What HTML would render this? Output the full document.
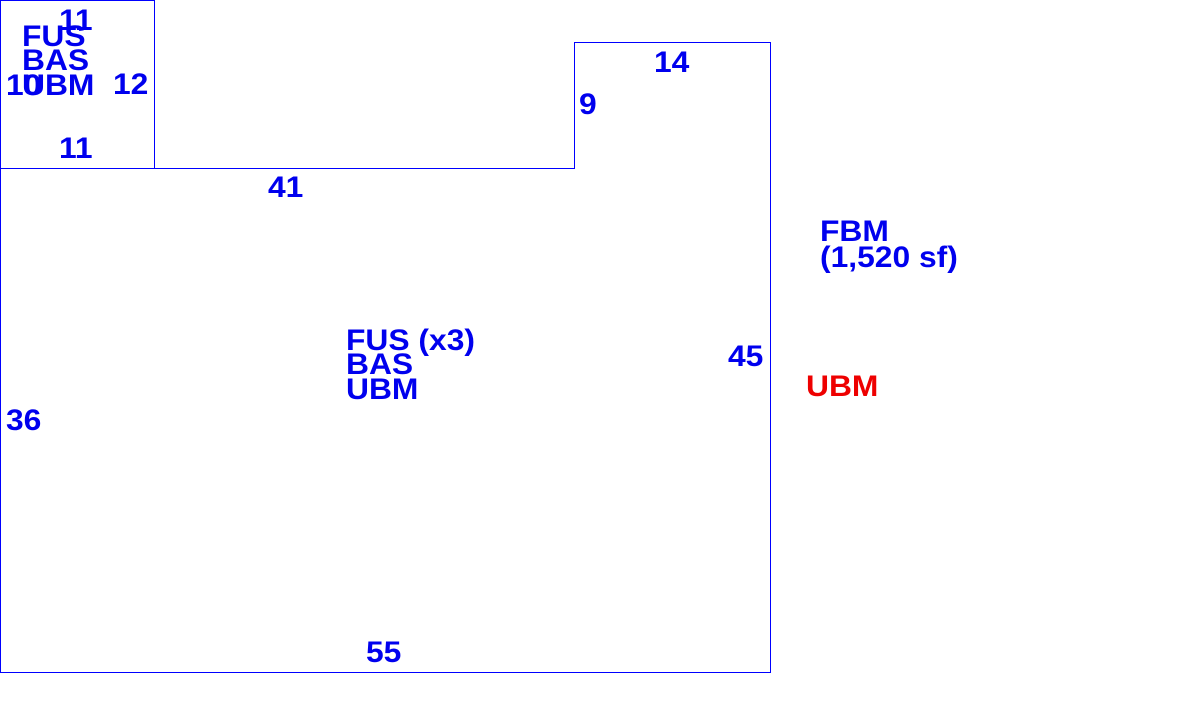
<!DOCTYPE html>
<html><head><meta charset="utf-8"><style>html,body{margin:0;padding:0;background:#fff;}svg{display:block}</style></head>
<body>
<svg width="1184" height="722" xmlns="http://www.w3.org/2000/svg">
<g fill="none" stroke="#0000ff" stroke-width="1">
<rect x="0.5" y="0.5" width="154" height="168"/>
<polyline points="0.5,168.5 574.5,168.5 574.5,42.5 770.5,42.5 770.5,672.5 0.5,672.5 0.5,168.5"/>
</g>
<g font-family="Liberation Sans, sans-serif" font-weight="bold" font-size="30" fill="#0000ee">
<text transform="translate(59,30) scale(1.06,1)">11</text>
<text transform="translate(22,46) scale(1.06,1)">FUS</text>
<text transform="translate(22,70) scale(1.06,1)">BAS</text>
<text transform="translate(22,95) scale(1.06,1)">UBM</text>
<text transform="translate(6,95) scale(1.06,1)">10</text>
<text transform="translate(113,94) scale(1.06,1)">12</text>
<text transform="translate(59,158) scale(1.06,1)">11</text>
<text transform="translate(268,197) scale(1.06,1)">41</text>
<text transform="translate(654,72) scale(1.06,1)">14</text>
<text transform="translate(579,114) scale(1.06,1)">9</text>
<text transform="translate(820,241) scale(1.06,1)">FBM</text>
<text transform="translate(820,267) scale(1.06,1)">(1,520 sf)</text>
<text transform="translate(346,350) scale(1.06,1)">FUS (x3)</text>
<text transform="translate(346,374) scale(1.06,1)">BAS</text>
<text transform="translate(346,399) scale(1.06,1)">UBM</text>
<text transform="translate(728,366) scale(1.06,1)">45</text>
<text transform="translate(6,430) scale(1.06,1)">36</text>
<text transform="translate(366,662) scale(1.06,1)">55</text>
<text transform="translate(806,396) scale(1.06,1)" fill="#ee0000">UBM</text>
</g>
</svg>
</body></html>
